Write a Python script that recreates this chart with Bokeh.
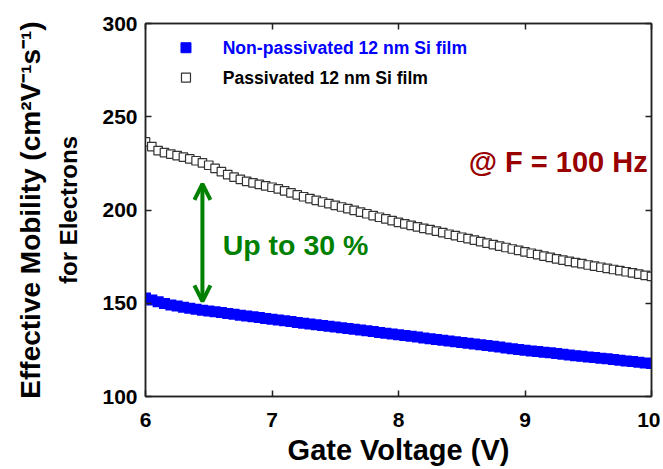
from bokeh.plotting import figure
from bokeh.models import LinearAxis, Label, Arrow, OpenHead, FixedTicker, Range1d, CustomJSTickFormatter
from bokeh.embed import file_html
from bokeh.resources import INLINE

# ---- data ----
gate_voltage = [6.00, 6.05, 6.10, 6.15, 6.20, 6.25, 6.30, 6.35, 6.40, 6.45,
                6.50, 6.55, 6.60, 6.65, 6.70, 6.75, 6.80, 6.85, 6.90, 6.95,
                7.00, 7.05, 7.10, 7.15, 7.20, 7.25, 7.30, 7.35, 7.40, 7.45,
                7.50, 7.55, 7.60, 7.65, 7.70, 7.75, 7.80, 7.85, 7.90, 7.95,
                8.00, 8.05, 8.10, 8.15, 8.20, 8.25, 8.30, 8.35, 8.40, 8.45,
                8.50, 8.55, 8.60, 8.65, 8.70, 8.75, 8.80, 8.85, 8.90, 8.95,
                9.00, 9.05, 9.10, 9.15, 9.20, 9.25, 9.30, 9.35, 9.40, 9.45,
                9.50, 9.55, 9.60, 9.65, 9.70, 9.75, 9.80, 9.85, 9.90, 9.95,
                10.00]

passivated = [236.5, 234.0, 231.8, 230.8, 230.0, 229.2, 228.3, 227.4, 226.4, 225.3,
              224.0, 222.3, 220.6, 219.0, 217.6, 216.4, 215.4, 214.5, 213.7, 212.9,
              212.2, 211.3, 210.3, 209.2, 208.1, 207.1, 206.1, 205.2, 204.3, 203.4,
              202.5, 201.6, 200.7, 199.8, 198.9, 198.0, 197.0, 196.1, 195.2, 194.3,
              193.4, 192.6, 191.8, 191.0, 190.2, 189.5, 188.7, 187.9, 187.0, 186.3,
              185.4, 184.6, 183.8, 183.0, 182.2, 181.4, 180.6, 179.9, 179.1, 178.4,
              177.6, 176.8, 176.1, 175.3, 174.6, 173.8, 173.1, 172.4, 171.8, 171.2,
              170.5, 169.9, 169.3, 168.7, 168.1, 167.5, 166.9, 166.3, 165.6, 165.0,
              164.4]

non_passivated = [152.8, 151.8, 150.8, 149.8, 149.1, 148.5, 147.9, 147.3, 146.8, 146.3,
                  145.9, 145.4, 145.0, 144.5, 144.1, 143.6, 143.2, 142.7, 142.3, 141.8,
                  141.4, 141.0, 140.6, 140.2, 139.7, 139.3, 138.9, 138.5, 138.1, 137.7,
                  137.3, 136.8, 136.4, 136.0, 135.6, 135.2, 134.8, 134.3, 133.9, 133.5,
                  133.1, 132.7, 132.3, 131.9, 131.4, 131.0, 130.6, 130.2, 129.8, 129.4,
                  128.9, 128.5, 128.1, 127.7, 127.3, 126.9, 126.5, 126.0, 125.6, 125.2,
                  124.8, 124.4, 124.1, 123.7, 123.4, 123.0, 122.7, 122.3, 121.9, 121.6,
                  121.2, 120.9, 120.5, 120.2, 119.8, 119.5, 119.1, 118.7, 118.4, 118.0,
                  117.7]

x_ticks = [6, 7, 8, 9, 10]
y_ticks = [100, 150, 200, 250, 300]
series_labels = ["Non-passivated 12 nm Si film", "Passivated 12 nm Si film"]
x_title = "Gate Voltage (V)"
y_title_lines = ["Effective Mobility (cm²V⁻¹s⁻¹)", "for Electrons"]
annotation_freq = "@ F = 100 Hz"
annotation_gain = "Up to 30 %"
gain_arrow_v = 6.45
gain_arrow_ends = [214, 151]

FONT = "Liberation Sans"
AX = "#222222"

p = figure(width=660, height=468, output_backend="svg", toolbar_location=None,
           x_range=Range1d(6, 10), y_range=Range1d(100, 300),
           x_axis_location=None, y_axis_location=None,
           min_border_left=145, min_border_right=9, min_border_top=23, min_border_bottom=65)
p.grid.visible = False
p.outline_line_color = AX
p.outline_line_width = 1.5
p.background_fill_color = "white"
p.border_fill_color = "white"


def make_axis(ticks, labels=True):
    ax = LinearAxis(ticker=FixedTicker(ticks=ticks))
    ax.major_tick_in = 6
    ax.major_tick_out = 0
    ax.minor_tick_in = 0
    ax.minor_tick_out = 0
    ax.axis_line_color = AX
    ax.axis_line_width = 1.5
    ax.major_tick_line_color = AX
    ax.major_tick_line_width = 1.5
    ax.major_label_text_font = FONT
    ax.major_label_text_font_style = "bold"
    ax.major_label_text_font_size = "21px"
    ax.major_label_text_color = "black"
    if not labels:
        ax.formatter = CustomJSTickFormatter(code="return ''")
        ax.major_label_standoff = 0
    return ax


def title_axis(text, size, standoff):
    ax = LinearAxis(ticker=FixedTicker(ticks=[]))
    ax.axis_line_color = None
    ax.major_tick_line_color = None
    ax.minor_tick_line_color = None
    ax.major_label_standoff = 0
    ax.axis_label = text
    ax.axis_label_text_font = FONT
    ax.axis_label_text_font_style = "bold"
    ax.axis_label_text_font_size = size
    ax.axis_label_text_color = "black"
    ax.axis_label_standoff = standoff
    return ax


xb = make_axis(x_ticks)
xb.major_label_standoff = 16
xb.axis_label = x_title
xb.axis_label_text_font = FONT
xb.axis_label_text_font_style = "bold"
xb.axis_label_text_font_size = "29px"
xb.axis_label_text_color = "black"
xb.axis_label_standoff = 4
p.add_layout(xb, "below")
p.add_layout(make_axis(x_ticks, labels=False), "above")

yl = make_axis(y_ticks)
yl.major_label_standoff = 8
p.add_layout(yl, "left")
p.add_layout(title_axis(y_title_lines[1], "24px", 18), "left")
p.add_layout(title_axis(y_title_lines[0], "28px", 6), "left")
p.add_layout(make_axis(y_ticks, labels=False), "right")

# data
p.scatter(gate_voltage, non_passivated, marker="square", size=11,
          fill_color="#0000ff", line_color="#0000ff", line_width=0)
p.scatter(gate_voltage, passivated, marker="square", size=8.5,
          fill_color="white", line_color="#333333", line_width=1.2)

# legend (manual)
leg_x = 6.32
leg_y = [287, 271]
p.scatter([leg_x], [leg_y[0]], marker="square", size=10, fill_color="#0000ff", line_color="#0000ff")
p.scatter([leg_x], [leg_y[1]], marker="square", size=9, fill_color="white", line_color="#333333", line_width=1.2)
p.add_layout(Label(x=6.61, y=leg_y[0], text=series_labels[0], text_font=FONT, text_font_style="bold",
                   text_font_size="17.6px", text_color="#0000ff", text_baseline="middle", text_align="left"))
p.add_layout(Label(x=6.61, y=leg_y[1], text=series_labels[1], text_font=FONT, text_font_style="bold",
                   text_font_size="17.6px", text_color="black", text_baseline="middle", text_align="left"))

# annotations
p.add_layout(Label(x=9.97, y=225.8, text=annotation_freq, text_font=FONT, text_font_style="bold",
                   text_font_size="29px", text_color="#990000", text_baseline="middle", text_align="right"))
p.add_layout(Label(x=6.61, y=181.5, text=annotation_gain, text_font=FONT, text_font_style="bold",
                   text_font_size="28.5px", text_color="#008000", text_baseline="middle", text_align="left"))
head = dict(line_color="#008000", line_width=4)
p.add_layout(Arrow(x_start=gain_arrow_v, y_start=gain_arrow_ends[0], x_end=gain_arrow_v, y_end=gain_arrow_ends[1],
                   start=OpenHead(size=16, **head), end=OpenHead(size=16, **head),
                   line_color="#008000", line_width=4))

open("out.html", "w").write(file_html(p, INLINE))
